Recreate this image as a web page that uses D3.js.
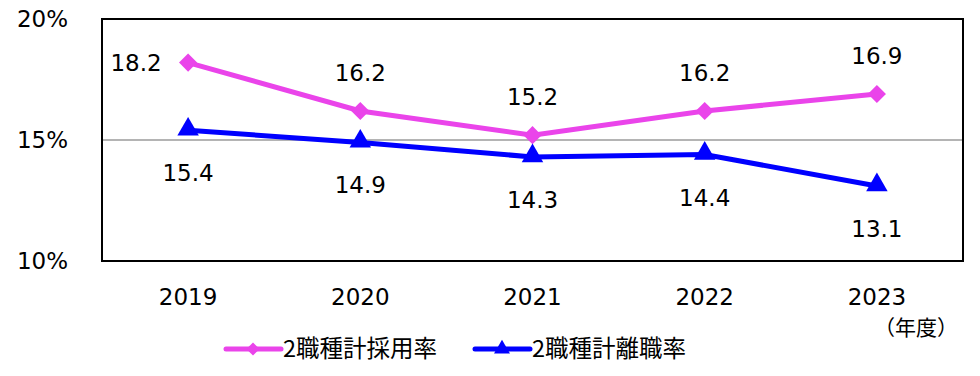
<!DOCTYPE html>
<html>
<head>
<meta charset="utf-8">
<script src="https://cdn.jsdelivr.net/npm/d3@7"></script>
<style>
  body { margin: 0; background: #fff; }
  text { font-family: "DejaVu Sans", "Noto Sans CJK JP", sans-serif; fill: #000; }
</style>
</head>
<body>
<div id="chart"></div>
<script>
// Data
const years = ["2019", "2020", "2021", "2022", "2023"];
const hireRate = [18.2, 16.2, 15.2, 16.2, 16.9];
const leaveRate = [15.4, 14.9, 14.3, 14.4, 13.1];
const yTicks = [10, 15, 20];
const seriesNames = ["2職種計採用率", "2職種計離職率"];

const width = 980, height = 376;
const margin = { left: 102, right: 17, top: 19, bottom: 115 };

const svg = d3.select("#chart").append("svg")
    .attr("width", width)
    .attr("height", height);

const x = d3.scaleBand()
    .domain(years)
    .range([margin.left, width - margin.right]);

const y = d3.scaleLinear()
    .domain([10, 20])
    .range([height - margin.bottom, margin.top]);

// gridline at 15%
svg.append("line")
    .attr("x1", margin.left).attr("x2", width - margin.right)
    .attr("y1", y(15)).attr("y2", y(15))
    .attr("stroke", "#b4b4b4").attr("stroke-width", 2);

// frame
svg.append("rect")
    .attr("x", margin.left).attr("y", margin.top)
    .attr("width", width - margin.left - margin.right)
    .attr("height", height - margin.top - margin.bottom)
    .attr("fill", "none").attr("stroke", "#000").attr("stroke-width", 2);

// y tick labels
svg.selectAll(".ytick").data(yTicks).join("text")
    .attr("x", 68).attr("y", d => y(d) + 8)
    .attr("text-anchor", "end")
    .style("font-size", "23px")
    .text(d => d + "%");

// x tick labels
svg.selectAll(".xtick").data(years).join("text")
    .attr("x", d => x(d) + x.bandwidth() / 2)
    .attr("y", 305)
    .attr("text-anchor", "middle")
    .style("font-size", "23px")
    .text(d => d);

svg.append("text")
    .attr("x", 916).attr("y", 335)
    .attr("text-anchor", "middle")
    .style("font-family", "'Noto Sans CJK JP'")
    .style("font-size", "21px")
    .text("（年度）");

const cx = d => x(d) + x.bandwidth() / 2;
const line = d3.line().x((d, i) => cx(years[i])).y(d => y(d));

const pink = "#ea44ea", blue = "#0000ff";

// lines
svg.append("path").datum(hireRate)
    .attr("d", line).attr("fill", "none")
    .attr("stroke", pink).attr("stroke-width", 5);
svg.append("path").datum(leaveRate)
    .attr("d", line).attr("fill", "none")
    .attr("stroke", blue).attr("stroke-width", 5);

// markers
const diamond = d3.symbol().type(d3.symbolDiamond2).size(210);
const triangle = d3.symbol().type(d3.symbolTriangle).size(200);

svg.selectAll(".hm").data(hireRate).join("path")
    .attr("transform", (d, i) => `translate(${cx(years[i])},${y(d)})`)
    .attr("d", diamond).attr("fill", pink);
svg.selectAll(".lm").data(leaveRate).join("path")
    .attr("transform", (d, i) => `translate(${cx(years[i])},${y(d) - 1})`)
    .attr("d", triangle).attr("fill", blue);

// data labels
svg.selectAll(".hl").data(hireRate).join("text")
    .attr("x", (d, i) => i === 0 ? cx(years[i]) - 52 : cx(years[i]))
    .attr("y", (d, i) => i === 0 ? y(d) + 8 : y(d) - 30)
    .attr("text-anchor", "middle")
    .style("font-size", "23px")
    .text(d => d.toFixed(1));
svg.selectAll(".ll").data(leaveRate).join("text")
    .attr("x", (d, i) => cx(years[i]))
    .attr("y", d => y(d) + 51)
    .attr("text-anchor", "middle")
    .style("font-size", "23px")
    .text(d => d.toFixed(1));

// legend
const legend = [
  { name: seriesNames[0], color: pink, type: d3.symbolDiamond2, x: 226 },
  { name: seriesNames[1], color: blue, type: d3.symbolTriangle, x: 475 }
];
legend.forEach(l => {
  const g = svg.append("g").attr("transform", `translate(${l.x},349)`);
  g.append("line").attr("x1", 0).attr("x2", 55).attr("y1", 0).attr("y2", 0)
    .attr("stroke", l.color).attr("stroke-width", 5).attr("stroke-linecap", "round");
  g.append("path").attr("transform", "translate(27,0)")
    .attr("d", d3.symbol().type(l.type).size(110)())
    .attr("fill", l.color);
  g.append("text").attr("x", 57).attr("y", 8)
    .style("font-family", "'Noto Sans CJK JP'")
    .style("font-size", "23.5px")
    .text(l.name);
});
</script>
</body>
</html>
